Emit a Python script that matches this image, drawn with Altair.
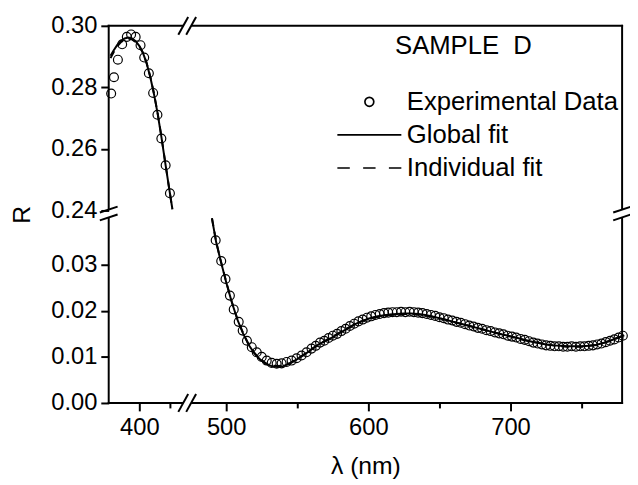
import altair as alt
import pandas as pd

# ---------------- data ----------------
# short-wavelength branch (upper R range)
exp_top_nm = [377, 379.3, 382.5, 386, 389.8, 393.3, 397, 401, 404, 407.8, 411.3, 414.8, 418, 421.5, 425]
exp_top_R = [0.278, 0.2833, 0.289, 0.294, 0.2964, 0.2972, 0.2964, 0.2937, 0.2897, 0.2846,
             0.2782, 0.2711, 0.2634, 0.2547, 0.2456]

# long-wavelength branch (lower R range)
exp_bot_nm = [492.6, 496.5, 499.5, 502.6, 505.3, 508.8, 511.6, 514.6, 518.0, 521.5, 525.0, 528.5,
              532.0, 535.5, 539.0, 542.5, 546.0, 549.5, 553.0, 556.5,
              560, 563, 566, 569, 572, 575, 578, 581, 584, 587, 590, 593, 596, 599, 602, 605, 608,
              611, 614, 617, 620, 623, 626, 629, 632, 635, 638, 641, 644, 647, 650, 653, 656, 659,
              662, 665, 668, 671, 674, 677, 680, 683, 686, 689, 692, 695, 698, 701, 704, 707, 710,
              713, 716, 719, 722, 725, 728, 731, 734, 737, 740, 743, 746, 749, 752, 755, 758, 761,
              764, 767, 770, 773, 776, 779]
exp_bot_R = [0.0353, 0.0308, 0.0269, 0.0233, 0.0203, 0.0176, 0.0157, 0.0135, 0.0121, 0.0110,
             0.0100, 0.0092, 0.0087, 0.0085, 0.0086, 0.0089, 0.0092, 0.0097, 0.0103, 0.0110,
             0.0118, 0.0124, 0.0131, 0.0135, 0.0141, 0.0146, 0.0150, 0.0156, 0.0161, 0.0167,
             0.0172, 0.0177, 0.0181, 0.0185, 0.0188, 0.0191, 0.0193, 0.0195, 0.0196, 0.0197,
             0.0197, 0.0198, 0.0197, 0.0198, 0.0197, 0.0196, 0.0195, 0.0193, 0.0191, 0.0189,
             0.0186, 0.0184, 0.0181, 0.0179, 0.0176, 0.0174, 0.0171, 0.0168, 0.0166, 0.0163,
             0.0161, 0.0158, 0.0156, 0.0153, 0.0151, 0.0149, 0.0146, 0.0144, 0.0142, 0.0139,
             0.0137, 0.0134, 0.0131, 0.0129, 0.0127, 0.0125, 0.0124, 0.0123, 0.0123, 0.0122,
             0.0122, 0.0123, 0.0122, 0.0123, 0.0123, 0.0124, 0.0125, 0.0127, 0.0129, 0.0132,
             0.0135, 0.0138, 0.0142, 0.0146]

fit_top_nm = [376.5, 379, 382, 385, 388, 391, 394, 397, 400, 403, 406, 409, 412, 415, 418, 421, 424, 427]
global_top_R = [0.2903, 0.2920, 0.2938, 0.2951, 0.2959, 0.2962, 0.2959, 0.2950, 0.2935, 0.2912,
                0.2878, 0.2833, 0.2778, 0.2714, 0.2640, 0.2560, 0.2482, 0.2405]
indiv_top_R = [0.2895, 0.2914, 0.2933, 0.2947, 0.2955, 0.2958, 0.2956, 0.2948, 0.2934, 0.2912,
               0.2879, 0.2835, 0.2780, 0.2716, 0.2642, 0.2561, 0.2482, 0.2404]

fit_bot_nm = [490, 493, 496, 500, 504, 508, 512, 516, 520, 524, 528, 532, 536, 540, 545, 550, 555,
              560, 565, 570, 575, 580, 585, 590, 595, 600, 605, 610, 615, 620, 625, 630, 635, 640,
              645, 650, 655, 660, 665, 670, 675, 680, 685, 690, 695, 700, 705, 710, 715, 720, 725,
              730, 735, 740, 745, 750, 755, 760, 765, 770, 775, 780]
global_bot_R = [0.0400, 0.0348, 0.0310, 0.0262, 0.0218, 0.0180, 0.0150, 0.0125, 0.0107, 0.0094,
                0.0085, 0.0080, 0.0078, 0.0080, 0.0086, 0.0095, 0.0105, 0.0116, 0.0127, 0.0135,
                0.0143, 0.0152, 0.0161, 0.0170, 0.0177, 0.0183, 0.0187, 0.0190, 0.0192, 0.0193,
                0.0194, 0.0194, 0.0193, 0.0191, 0.0188, 0.0184, 0.0180, 0.0176, 0.0172, 0.0168,
                0.0164, 0.0160, 0.0156, 0.0152, 0.0148, 0.0145, 0.0141, 0.0137, 0.0133, 0.0130,
                0.0127, 0.0125, 0.0124, 0.0123, 0.0123, 0.0123, 0.0124, 0.0126, 0.0130, 0.0135,
                0.0141, 0.0147]
indiv_bot_R = [0.0401, 0.0349, 0.0311, 0.0263, 0.0219, 0.0181, 0.0151, 0.0126, 0.0108, 0.0095,
               0.0086, 0.0081, 0.0080, 0.0081, 0.0087, 0.0096, 0.0106, 0.0117, 0.0127, 0.0136,
               0.0144, 0.0153, 0.0162, 0.0170, 0.0177, 0.0182, 0.0186, 0.0189, 0.0191, 0.0192,
               0.0193, 0.0193, 0.0192, 0.0190, 0.0187, 0.0184, 0.0180, 0.0176, 0.0172, 0.0168,
               0.0164, 0.0160, 0.0156, 0.0152, 0.0148, 0.0144, 0.0140, 0.0136, 0.0133, 0.0130,
               0.0127, 0.0125, 0.0123, 0.0122, 0.0122, 0.0122, 0.0124, 0.0126, 0.0130, 0.0135,
               0.0141, 0.0147]

series_names = ["Experimental Data", "Global fit", "Individual fit"]
sample_title = "SAMPLE\u00a0\u00a0D"

x_major = [400, 500, 600, 700]
x_minor = [425, 550, 650, 750]
y_major = [0.00, 0.01, 0.02, 0.03, 0.24, 0.26, 0.28, 0.30]
y_minor = [0.005, 0.015, 0.025, 0.035, 0.25, 0.27, 0.29]

# ---------------- broken-axis mapping ----------------
def xu(nm):
    return round((nm - 375) * 1.24 if nm <= 460 else 83 + (nm - 475) * 1.44, 3)

def yv(r):
    return round(r * 4670 if r < 0.1 else 195 + (r - 0.24) * 3120, 3)

X_MAX = 520
Y_MAX = yv(0.30)
XB = 79.5    # x-axis break (transformed units)
YB = 192.0   # y-axis break (transformed units)
G = 4        # half-gap of the breaks
T = 1        # half-thickness of the frame

rows = []
for nm, r in zip(exp_top_nm, exp_top_R):
    rows.append(dict(u=xu(nm), v=yv(r), series="Experimental Data", seg="top"))
for nm, r in zip(exp_bot_nm, exp_bot_R):
    rows.append(dict(u=xu(nm), v=yv(r), series="Experimental Data", seg="bot"))
exp_df = pd.DataFrame(rows)

frows = []
for i, (nm, r) in enumerate(zip(fit_top_nm, global_top_R)):
    frows.append(dict(u=xu(nm), v=yv(r), series="Global fit", seg="top", o=i))
for i, (nm, r) in enumerate(zip(fit_bot_nm, global_bot_R)):
    frows.append(dict(u=xu(nm), v=yv(r), series="Global fit", seg="bot", o=i))
for i, (nm, r) in enumerate(zip(fit_top_nm, indiv_top_R)):
    frows.append(dict(u=xu(nm), v=yv(r), series="Individual fit", seg="top", o=i))
for i, (nm, r) in enumerate(zip(fit_bot_nm, indiv_bot_R)):
    frows.append(dict(u=xu(nm), v=yv(r), series="Individual fit", seg="bot", o=i))
fit_df = pd.DataFrame(frows)

# frame bars (axis lines broken at the breaks), from domain extents
bars = []
for vv in [0, Y_MAX]:
    bars.append(dict(u=-T, u2=XB - G, v=vv - T, v2=vv + T))
    bars.append(dict(u=XB + G, u2=X_MAX + T, v=vv - T, v2=vv + T))
for uu in [0, X_MAX]:
    bars.append(dict(u=uu - T, u2=uu + T, v=-T, v2=YB - G))
    bars.append(dict(u=uu - T, u2=uu + T, v=YB + G, v2=Y_MAX + T))
bar_df = pd.DataFrame(bars)

# break slashes
segs = []
for vv in [0, Y_MAX]:
    for c in (-G, G):
        segs.append(((XB + c - 5, vv - 9), (XB + c + 5, vv + 9)))
for uu in [0, X_MAX]:
    for c in (-G, G):
        segs.append(((uu - 9, YB + c - 3), (uu + 9, YB + c + 3)))
slash_rows = []
for k, (p, q) in enumerate(segs):
    slash_rows.append(dict(u=p[0], v=p[1], s=k, o=0))
    slash_rows.append(dict(u=q[0], v=q[1], s=k, o=1))
slash_df = pd.DataFrame(slash_rows)

# ---------------- axes ----------------
xmaj_u = [xu(v) for v in x_major]
xmin_u = [xu(v) for v in x_minor]
ymaj_v = [yv(v) for v in y_major]
ymin_v = [yv(v) for v in y_minor]

x_label_expr = " : ".join(f"datum.value == {u} ? '{lab}'" for u, lab in zip(xmaj_u, x_major)) + " : ''"
y_label_expr = " : ".join(f"datum.value == {v} ? '{lab:.2f}'" for v, lab in zip(ymaj_v, y_major)) + " : ''"

FONT = "Liberation Sans"
FS = 24       # tick labels
FT = 25       # axis titles
FL = 26       # legend

x_scale = alt.Scale(domain=[0, X_MAX], nice=False, zero=False)
y_scale = alt.Scale(domain=[0, Y_MAX], nice=False, zero=False)

common = dict(domain=False, grid=False, tickColor="black", tickWidth=2,
              labelFont=FONT, titleFont=FONT, titleFontWeight="normal",
              labelColor="black", titleColor="black", labelFlush=False, labelOverlap=False)

x_axis = alt.Axis(
    values=sorted(xmaj_u + xmin_u), labelExpr=x_label_expr, title="λ (nm)",
    tickSize={"condition": {"test": f"indexof({xmaj_u}, datum.value) >= 0", "value": 8}, "value": 5},
    labelFontSize=FS, titleFontSize=FT, labelPadding=5, titlePadding=14, **common,
)
y_axis = alt.Axis(
    values=sorted(ymaj_v + ymin_v), labelExpr=y_label_expr, title="R",
    tickSize={"condition": {"test": f"indexof({ymaj_v}, datum.value) >= 0", "value": 8}, "value": 5},
    labelFontSize=FS, titleFontSize=FT, labelPadding=4, titlePadding=16, **common,
)

shape_scale = alt.Scale(
    domain=series_names,
    range=["circle", "M-7.2,0H7.2", "M-7.2,0H-4.4M-1.4,0H1.4M4.4,0H7.2"],
)

legend = alt.Legend(
    title=None, orient="none", legendX=251, legendY=64,
    labelFontSize=FL, labelFont=FONT, labelColor="black", labelOffset=25, labelLimit=400,
    symbolSize=81, symbolStrokeColor="black", symbolFillColor="transparent",
    symbolStrokeWidth=1.7, rowPadding=7.5, padding=0,
)

points = alt.Chart(exp_df).mark_point(
    filled=False, color="black", size=81, strokeWidth=1.2, opacity=1
).encode(
    x=alt.X("u:Q", scale=x_scale, axis=x_axis),
    y=alt.Y("v:Q", scale=y_scale, axis=y_axis),
    shape=alt.Shape("series:N", scale=shape_scale, legend=legend),
)

glob = alt.Chart(fit_df).transform_filter("datum.series == 'Global fit'").mark_line(
    color="black", strokeWidth=2
).encode(x="u:Q", y="v:Q", detail="seg:N", order="o:Q")

indiv = alt.Chart(fit_df).transform_filter("datum.series == 'Individual fit'").mark_line(
    color="black", strokeWidth=2, strokeDash=[8, 6]
).encode(x="u:Q", y="v:Q", detail="seg:N", order="o:Q")

frame_marks = alt.Chart(bar_df).mark_rect(color="black", strokeWidth=0).encode(
    x="u:Q", x2="u2:Q", y="v:Q", y2="v2:Q"
)

slash_marks = alt.Chart(slash_df).mark_line(color="black", strokeWidth=2).encode(
    x="u:Q", y="v:Q", detail="s:N", order="o:Q"
)

sample_label = alt.Chart(pd.DataFrame({"t": [sample_title]})).mark_text(
    align="left", baseline="alphabetic", font=FONT, fontSize=FL, color="black"
).encode(x=alt.value(290), y=alt.value(29), text="t:N")

chart = alt.layer(points, glob, indiv, frame_marks, slash_marks, sample_label).properties(
    width=X_MAX, height=382,
    autosize=alt.AutoSizeParams(type="none"),
    padding={"left": 102, "top": 15, "right": 8, "bottom": 78},
    background="white",
).configure_view(
    strokeWidth=0
)

chart.save("out.html", embed_options={"renderer": "svg", "actions": False})
